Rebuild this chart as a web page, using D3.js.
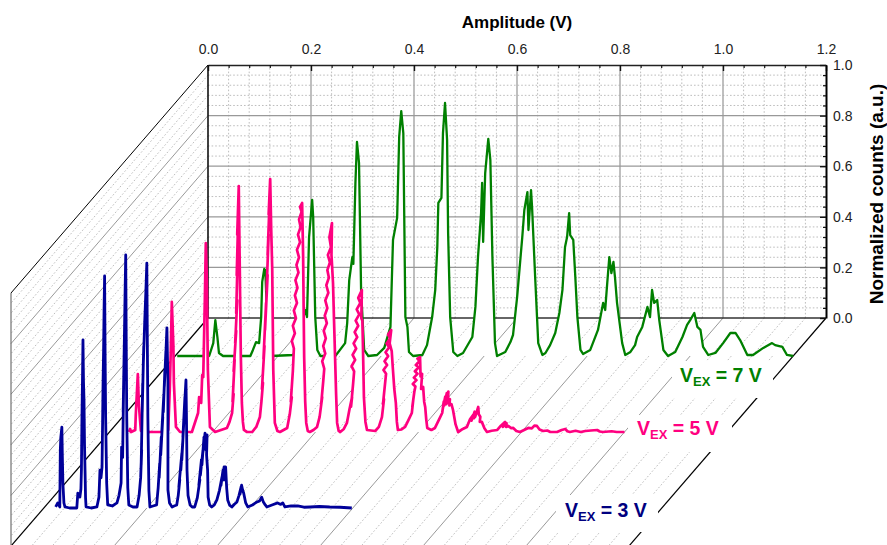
<!DOCTYPE html>
<html><head><meta charset="utf-8">
<script src="https://cdn.jsdelivr.net/npm/d3@7"></script>
<style>html,body{margin:0;padding:0;background:#fff}svg{display:block}text{font-family:"Liberation Sans",Arial,sans-serif}</style>
</head><body><div id="c"></div>
<script>
// Values, as flat "amplitude (mV), normalized counts (1/1000)" pairs.
const excitation = ["7 V","5 V","3 V"];
const greenSamples = [4,0,54,0,66,0,74,51,78,142,82,75,85,12,93,0,146,0,151,24,157,55,163,51,167,154,169,293,173,344,175,340,179,130,186,0,229,4,239,43,249,154,254,182,256,154,260,470,266,617,268,549,272,154,276,24,282,0,311,0,330,51,334,130,338,300,344,391,346,364,350,684,353,846,357,763,361,261,363,182,367,24,375,0,392,4,406,32,418,115,423,459,431,546,435,866,439,968,443,881,447,154,451,115,454,16,462,0,480,4,489,43,499,154,505,261,509,431,511,605,517,625,520,881,524,1000,528,854,530,486,534,154,540,16,548,0,559,12,577,75,583,194,588,391,594,565,596,684,598,451,602,723,608,858,612,775,616,391,621,51,625,0,641,16,651,55,656,83,664,233,674,470,678,577,684,648,686,498,691,656,693,589,699,312,705,51,713,4,719,12,728,43,738,91,746,170,752,261,757,431,761,470,765,565,767,478,773,459,777,312,781,154,787,24,792,8,806,24,821,103,831,210,835,182,839,289,843,391,847,328,851,372,854,312,858,210,868,51,874,4,884,16,893,43,897,75,907,115,917,194,922,154,926,261,930,210,936,221,940,142,948,24,957,0,971,16,985,75,994,123,1000,142,1008,170,1014,115,1020,103,1025,36,1035,4,1049,12,1064,51,1078,91,1088,91,1097,63,1111,4,1122,4,1142,32,1159,51,1165,43,1179,36,1188,4,1200,0];
const pinkSamples = [38,0,40,12,42,0,46,4,50,8,51,67,55,229,57,107,61,4,79,0,104,0,114,8,117,166,119,324,121,514,124,344,125,194,129,20,137,0,160,0,172,75,174,138,178,115,180,225,182,217,185,510,187,747,189,601,191,245,195,20,205,0,
228,16,233,40,238,75,241,150,239,120,243,285,241,240,246,400,244,350,248,520,246,470,249,708,247,620,250,850,248,780,251,972,252,800,253,640,255,300,257,115,259,40,261,8,
267,0,277,0,285,20,292,59,295,120,298,194,296,170,301,340,299,290,304,510,302,403,307,620,305,560,309,780,307,700,311,920,309,860,312,1000,314,800,316,640,318,245,321,36,326,4,
331,0,338,8,345,16,350,70,354,138,352,120,356,240,358,330,354,360,360,390,356,420,362,450,358,480,364,510,360,540,365,570,361,600,367,630,363,660,368,690,364,720,370,750,366,780,371,810,368,840,373,870,370,890,374,905,375,800,376,692,377,480,378,296,380,120,382,36,385,4,
389,0,396,8,403,20,408,60,413,138,411,110,415,200,417,250,413,280,419,310,415,340,420,370,416,400,422,430,418,460,423,490,419,520,425,550,421,580,426,610,423,640,428,670,424,700,430,730,427,770,432,826,431,700,434,589,436,440,438,296,440,150,442,36,445,4,
448,0,455,12,461,36,466,90,471,138,469,100,473,190,475,240,470,260,477,285,472,305,479,330,474,350,481,375,476,395,483,420,478,440,485,465,480,485,487,510,483,530,490,561,489,450,491,440,492,352,494,138,497,40,500,8,
516,4,523,20,529,59,533,130,531,110,535,190,537,230,532,245,539,265,534,280,541,300,536,315,543,335,538,350,545,370,541,385,547,403,544,350,548,320,550,257,553,170,556,115,558,40,560,8,
567,10,574,20,580,45,587,75,590,130,588,100,592,160,594,180,589,190,596,205,591,215,598,230,593,240,600,255,595,265,602,280,598,290,603,296,604,220,607,230,605,170,609,178,611,120,613,99,615,50,617,16,
625,8,632,16,640,50,646,75,649,120,647,90,652,140,650,105,655,154,654,110,658,160,657,115,661,130,660,105,664,110,667,87,672,30,677,0,
686,12,694,20,700,50,706,67,703,45,709,80,708,55,712,75,710,60,716,99,717,70,720,60,719,40,723,40,728,15,733,0,
742,5,753,8,760,25,768,40,764,20,771,35,770,20,774,24,780,15,784,16,790,4,797,0,
805,8,813,16,820,14,825,25,830,24,835,10,842,4,850,6,856,0,869,0,878,8,885,12,889,3,894,0,905,5,915,0,924,4,935,6,947,8,952,2,958,0,975,3,985,0,1000,0];
const blueSamples = [23,4,27,20,31,4,32,229,33,280,35,320,36,200,37,99,39,20,41,4,50,0,64,0,66,59,70,43,72,75,73,150,74,360,75,500,76,664,77,500,78,427,79,250,80,150,81,40,82,4,92,0,103,4,107,43,109,150,111,119,113,162,114,320,115,494,116,620,117,790,118,917,119,600,120,360,122,100,124,12,133,8,142,20,146,50,150,99,151,241,153,200,155,494,154,380,157,743,156,620,158,880,159,1000,160,650,161,360,163,80,165,12,173,4,181,4,185,50,188,120,190,229,189,170,192,494,191,380,194,640,193,560,196,743,198,850,200,968,201,650,202,360,204,70,206,4,212,8,219,12,222,80,225,178,224,120,228,280,227,210,231,360,229,300,233,447,232,380,235,546,234,480,237,620,236,560,239,712,240,600,241,494,241,250,241,71,244,20,249,4,253,8,258,12,261,50,264,111,262,80,268,217,266,150,270,269,268,190,272,348,270,280,274,440,272,360,276,506,277,350,278,150,280,50,284,12,288,4,293,4,298,40,303,111,301,90,306,190,304,130,309,229,307,170,311,280,309,220,313,296,315,229,317,289,316,210,318,150,319,43,322,12,326,4,331,12,336,32,341,70,346,123,344,90,348,150,347,110,350,162,351,111,353,162,355,80,357,32,361,10,365,4,370,15,375,24,379,50,383,83,381,55,384,90,386,71,388,59,392,20,396,4,405,12,414,24,419,28,423,43,426,25,430,12,433,4,443,12,454,20,460,14,464,20,468,4,480,8,493,8,505,3,517,4,535,6,555,4,575,3,598,0];
const ampMajor = [0,0.2,0.4,0.6,0.8,1.0,1.2];
const countMajor = [0,0.2,0.4,0.6,0.8,1.0];
const seriesDepth = [1/6,1/2,5/6];
const seriesColors = ["#008000","#ff0080","#000099"];
const labelColors = ["#008000","#ff0080","#000080"];

const W=887,H=545;
const x=d3.scaleLinear().domain([0,1.2]).range([208,826]);
const y=d3.scaleLinear().domain([0,1]).range([318,65]);
const depthX=d3.scaleLinear().domain([0,1]).range([0,-197]);
const depthY=d3.scaleLinear().domain([0,1]).range([0,228]);
const ampMinor=d3.range(0,31).map(i=>i*0.04).filter(v=>!ampMajor.some(m=>Math.abs(m-v)<1e-6));
const countMinor=d3.range(0,26).map(i=>i*0.04).filter(v=>!countMajor.some(m=>Math.abs(m-v)<1e-6));
const svg=d3.select("#c").append("svg").attr("width",W).attr("height",H).attr("viewBox",[0,0,W,H]);
const minorStyle=s=>s.attr("stroke","#bdbdbd").attr("stroke-width",1).attr("stroke-dasharray","1.6,2").attr("fill","none");
const line=(g,x1,y1,x2,y2)=>g.append("line").attr("x1",x1).attr("y1",y1).attr("x2",x2).attr("y2",y2);

const gm=svg.append("g");
ampMinor.forEach(a=>{
  minorStyle(line(gm,x(a),y(0),x(a),y(1)));
  minorStyle(line(gm,x(a),y(0),x(a)+depthX(1),y(0)+depthY(1)));
});
countMinor.forEach(c=>{
  minorStyle(line(gm,x(0),y(c),x(1.2),y(c)));
  minorStyle(line(gm,x(0),y(c),x(0)+depthX(1),y(c)+depthY(1)));
});
const gj=svg.append("g").attr("fill","none");
ampMajor.slice(1,-1).forEach(a=>{
  line(gj,x(a),y(0),x(a),y(1)).attr("stroke","#aaa").attr("stroke-width",1.5);
  line(gj,x(a),y(0),x(a)+depthX(1),y(0)+depthY(1)).attr("stroke","#999").attr("stroke-width",1);
});
countMajor.slice(1,-1).forEach(c=>{
  line(gj,x(0),y(c),x(1.2),y(c)).attr("stroke","#999").attr("stroke-width",1.2);
  line(gj,x(0),y(c),x(0)+depthX(1),y(c)+depthY(1)).attr("stroke","#999").attr("stroke-width",1);
});
const ge=svg.append("g").attr("fill","none");
line(ge,x(0),y(1),x(0)+depthX(1),y(1)+depthY(1)).attr("stroke","#000").attr("stroke-width",1);
line(ge,x(0),y(0),x(0)+depthX(1),y(0)+depthY(1)).attr("stroke","#000").attr("stroke-width",1.2);
line(ge,x(1.2),y(0),x(1.2)+depthX(1),y(0)+depthY(1)).attr("stroke","#000").attr("stroke-width",1.2);
line(ge,x(0)+depthX(1),y(1)+depthY(1),x(0)+depthX(1),y(0)+depthY(1)).attr("stroke","#555").attr("stroke-width",1);
line(ge,x(0),y(0),x(1.2),y(0)).attr("stroke","#333").attr("stroke-width",1.6);
line(ge,x(0),y(0),x(0),y(1)).attr("stroke","#111").attr("stroke-width",1.6);

const labelBoxes=[[672,361,101,37],[628,415,104,37],[556,495,102,37]];
svg.append("g").selectAll("rect").data(labelBoxes).join("rect")
  .attr("x",d=>d[0]).attr("y",d=>d[1]).attr("width",d=>d[2]).attr("height",d=>d[3]).attr("fill","#fff");

const series=[greenSamples,pinkSamples,blueSamples];
const widths=[2.3,2.7,2.8];
series.forEach((flat,i)=>{
  const dx=depthX(seriesDepth[i]),dy=depthY(seriesDepth[i]);
  const pts=d3.range(0,flat.length,2).map(k=>[flat[k]/1000,flat[k+1]/1000]);
  const g=svg.append("g").attr("transform",`translate(${dx},${dy})`);
  g.append("path").datum(pts).attr("fill","#fff")
    .attr("d",d3.area().x(d=>x(d[0])).y0(y(0)).y1(d=>y(d[1])));
  g.append("path").datum(pts).attr("fill","none").attr("stroke",seriesColors[i])
    .attr("stroke-width",widths[i]).attr("stroke-linejoin","round")
    .attr("d",d3.line().x(d=>x(d[0])).y(d=>y(d[1])));
});

function style(g,w){g.select(".domain").attr("stroke","#222").attr("stroke-width",w);g.selectAll(".tick line").attr("stroke","#111").attr("stroke-width",1.4);}
const top1=d3.axisTop(x).tickValues(ampMajor).tickFormat(d3.format(".1f")).tickSize(-6).tickSizeOuter(0).tickPadding(11);
const ga=svg.append("g").attr("transform",`translate(0,${y(1)})`).call(top1);style(ga,1.6);
ga.selectAll("text").attr("font-size",14).attr("fill","#222").attr("font-family","Liberation Sans").attr("y",-11);
const gaMin=svg.append("g").attr("transform",`translate(0,${y(1)})`).call(d3.axisTop(x).tickValues(ampMinor).tickFormat("").tickSize(-3).tickSizeOuter(0));
gaMin.select(".domain").remove();gaMin.selectAll(".tick line").attr("stroke","#111").attr("stroke-width",1.2);
const right1=d3.axisRight(y).tickValues(countMajor).tickFormat(d3.format(".1f")).tickSize(-6).tickSizeOuter(0);
const gr=svg.append("g").attr("transform",`translate(${x(1.2)},0)`).call(right1);style(gr,2);
gr.select(".domain").attr("stroke","#000");
gr.selectAll("text").attr("font-size",14).attr("fill","#222").attr("font-family","Liberation Sans").attr("x",7).attr("dy","0.34em");
const grMin=svg.append("g").attr("transform",`translate(${x(1.2)},0)`).call(d3.axisRight(y).tickValues(countMinor).tickFormat("").tickSize(-3).tickSizeOuter(0));
grMin.select(".domain").remove();grMin.selectAll(".tick line").attr("stroke","#111").attr("stroke-width",1.2);

svg.append("text").attr("x",517).attr("y",28).attr("text-anchor","middle").attr("font-size",17).attr("font-weight","bold").attr("fill","#000").text("Amplitude (V)");
svg.append("text").attr("transform","translate(883,194) rotate(-90)").attr("text-anchor","middle").attr("font-size",19).attr("font-weight","bold").attr("fill","#000").text("Normalized counts (a.u.)");

const labelPos=[[680,382],[637,435],[565,517]];
excitation.forEach((v,i)=>{
  const t=svg.append("text").attr("x",labelPos[i][0]).attr("y",labelPos[i][1]).attr("fill",labelColors[i]).attr("font-weight","bold").attr("font-size",19.5);
  t.append("tspan").text("V");
  t.append("tspan").attr("font-size",13).attr("dy",4).text("EX");
  t.append("tspan").attr("dy",-4).text("\u00a0=\u00a0"+v.replace(" ","\u00a0"));
});
</script></body></html>
